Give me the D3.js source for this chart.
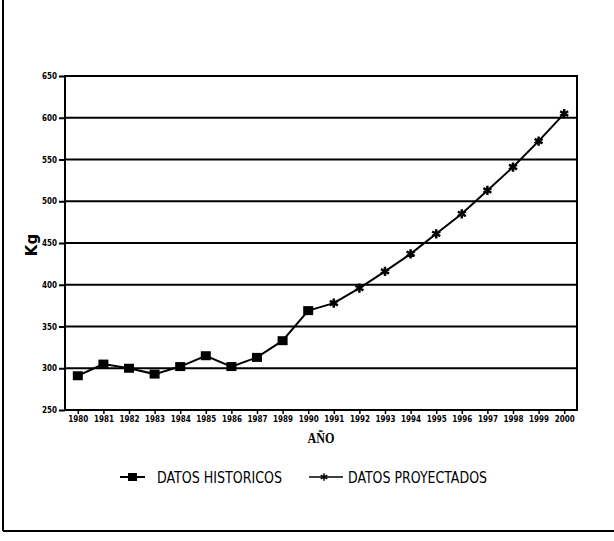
<!DOCTYPE html>
<html lang="es">
<head>
    <meta charset="UTF-8">
    <title>Kg por año</title>
    <script src="https://d3js.org/d3.v7.min.js"></script>
    <style>
        body { margin: 0; background: #fff; }
        svg { display: block; }
        .tick text { font-family: "DejaVu Sans Condensed", sans-serif; font-weight: bold; }
    </style>
</head>
<body>
    <svg width="614" height="541"></svg>

    <script>
        // datos
        const years = ["1980", "1981", "1982", "1983", "1984", "1985", "1986", "1987", "1989", "1990",
                       "1991", "1992", "1993", "1994", "1995", "1996", "1997", "1998", "1999", "2000"];
        const historicYears = ["1980", "1981", "1982", "1983", "1984", "1985", "1986", "1987", "1989", "1990"];
        const historicValues = [291, 305, 300, 293, 302, 315, 302, 313, 333, 369];
        const projectedYears = ["1990", "1991", "1992", "1993", "1994", "1995", "1996", "1997", "1998", "1999", "2000"];
        const projectedValues = [369, 378, 396, 416, 437, 461, 485, 513, 541, 572, 605];
        const yTicks = [250, 300, 350, 400, 450, 500, 550, 600, 650];

        const svg = d3.select("svg");
        const mLeft = 65, mRight = 577, mTop = 76, mBottom = 410;

        const x = d3.scalePoint().domain(years).range([mLeft, mRight]).padding(0.5);
        const y = d3.scaleLinear().domain([250, 650]).range([mBottom, mTop]);

        // marco exterior del escaneo
        svg.append("line").attr("x1", 3).attr("x2", 3).attr("y1", 0).attr("y2", 531)
            .attr("stroke", "#000").attr("stroke-width", 2);
        svg.append("line").attr("x1", 3).attr("x2", 614).attr("y1", 531).attr("y2", 531)
            .attr("stroke", "#000").attr("stroke-width", 2);

        // lineas de division
        svg.append("g").selectAll("line")
            .data(yTicks.slice(1, -1))
            .enter().append("line")
            .attr("x1", mLeft).attr("x2", mRight)
            .attr("y1", d => y(d)).attr("y2", d => y(d))
            .attr("stroke", "#000").attr("stroke-width", 2);

        svg.append("rect")
            .attr("x", mLeft).attr("y", mTop)
            .attr("width", mRight - mLeft).attr("height", mBottom - mTop)
            .attr("fill", "none").attr("stroke", "#000").attr("stroke-width", 2);

        const yAxis = svg.append("g")
            .attr("transform", `translate(${mLeft},0)`)
            .call(d3.axisLeft(y).tickValues(yTicks).tickSize(6).tickPadding(2));
        yAxis.select(".domain").remove();
        yAxis.selectAll(".tick line").attr("stroke-width", 2);
        yAxis.selectAll(".tick text").attr("font-size", 8);

        const xAxis = svg.append("g")
            .attr("transform", `translate(0,${mBottom})`)
            .call(d3.axisBottom(x).tickSize(4).tickPadding(2));
        xAxis.select(".domain").remove();
        xAxis.selectAll(".tick line").attr("stroke-width", 1.5);
        xAxis.selectAll(".tick text").attr("font-size", 8)
            .attr("textLength", 20).attr("lengthAdjust", "spacingAndGlyphs");

        // titulos de ejes
        svg.append("text")
            .attr("x", 321).attr("y", 443)
            .attr("text-anchor", "middle")
            .attr("font-family", "Liberation Serif, serif")
            .attr("font-weight", "bold").attr("font-size", 15)
            .attr("textLength", 27).attr("lengthAdjust", "spacingAndGlyphs")
            .text("AÑO");

        svg.append("text")
            .attr("transform", "translate(37,245) rotate(-90)")
            .attr("text-anchor", "middle")
            .attr("font-family", "DejaVu Sans, sans-serif")
            .attr("font-weight", "bold").attr("font-size", 15)
            .text("Kg");

        // serie completa
        const line = d3.line().x(d => x(d[0])).y(d => y(d[1]));
        const histPts = historicYears.map((d, i) => [d, historicValues[i]]);
        const projPts = projectedYears.map((d, i) => [d, projectedValues[i]]);

        svg.append("path").datum(histPts).attr("d", line)
            .attr("fill", "none").attr("stroke", "#000").attr("stroke-width", 2);
        svg.append("path").datum(projPts).attr("d", line)
            .attr("fill", "none").attr("stroke", "#000").attr("stroke-width", 2);

        svg.append("g").selectAll("rect")
            .data(histPts)
            .enter().append("rect")
            .attr("x", d => x(d[0]) - 5).attr("y", d => y(d[1]) - 4.5)
            .attr("width", 10).attr("height", 9)
            .attr("fill", "#000");

        const star = d3.symbol().type(d3.symbolAsterisk).size(60);
        svg.append("g").selectAll("path")
            .data(projPts.filter(d => !historicYears.includes(d[0])))
            .enter().append("path")
            .attr("transform", d => `translate(${x(d[0])},${y(d[1])})`)
            .attr("d", star)
            .attr("stroke", "#000").attr("stroke-width", 2.5);

        // leyenda
        const legend = svg.append("g").attr("font-family", "DejaVu Sans Condensed, sans-serif");
        legend.append("line").attr("x1", 120).attr("x2", 145).attr("y1", 477).attr("y2", 477)
            .attr("stroke", "#000").attr("stroke-width", 2);
        legend.append("rect").attr("x", 128).attr("y", 473).attr("width", 9).attr("height", 8).attr("fill", "#000");
        legend.append("text").attr("x", 157).attr("y", 483)
            .attr("font-size", 15)
            .attr("textLength", 125).attr("lengthAdjust", "spacingAndGlyphs")
            .text("DATOS HISTORICOS");

        legend.append("line").attr("x1", 309).attr("x2", 343).attr("y1", 477).attr("y2", 477)
            .attr("stroke", "#000").attr("stroke-width", 1.5);
        legend.append("path").attr("transform", "translate(324,477)")
            .attr("d", d3.symbol().type(d3.symbolAsterisk).size(40))
            .attr("stroke", "#000").attr("stroke-width", 1.5);
        legend.append("text").attr("x", 348).attr("y", 483)
            .attr("font-size", 15)
            .attr("textLength", 139).attr("lengthAdjust", "spacingAndGlyphs")
            .text("DATOS PROYECTADOS");
    </script>
</body>
</html>
